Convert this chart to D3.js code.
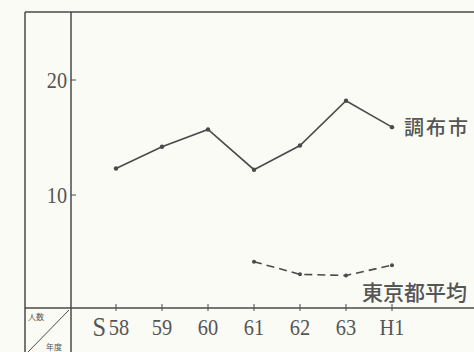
<!DOCTYPE html>
<html>
<head>
<meta charset="utf-8">
<script src="https://cdn.jsdelivr.net/npm/d3@7"></script>
<style>
  body { margin: 0; background: #fbfbf6; }
  svg { display: block; }
  text { fill: #555; }
</style>
</head>
<body>
<div id="chart"></div>
<script>
const years = ['S58', '59', '60', '61', '62', '63', 'H1'];
const chofu = [12.3, 14.2, 15.7, 12.2, 14.3, 18.2, 15.9];
const tokyoYears = ['61', '62', '63', 'H1'];
const tokyo = [4.2, 3.1, 3.0, 3.9];
const yTicks = [10, 20];

const W = 474, H = 352;
const svg = d3.select('#chart').append('svg')
    .attr('width', W)
    .attr('height', H);

const x = d3.scalePoint().domain(years).range([116, 392]);
const y = d3.scaleLinear().domain([0, 20]).range([310, 80]);

const ink = '#4a4a4a';

// frame lines
svg.append('line').attr('x1', 25).attr('x2', W).attr('y1', 12).attr('y2', 12)
    .style('stroke', ink).style('stroke-width', 1.5);
svg.append('line').attr('x1', 25).attr('x2', 25).attr('y1', 12).attr('y2', H)
    .style('stroke', ink).style('stroke-width', 1.5);
svg.append('line').attr('x1', 71).attr('x2', 71).attr('y1', 12).attr('y2', H)
    .style('stroke', ink).style('stroke-width', 1.5);
svg.append('line').attr('x1', 25).attr('x2', W).attr('y1', 308).attr('y2', 308)
    .style('stroke', ink).style('stroke-width', 1.5);

// corner box
svg.append('line').attr('x1', 28).attr('y1', 352).attr('x2', 69).attr('y2', 310)
    .style('stroke', ink).style('stroke-width', 1);
svg.append('text').attr('x', 28).attr('y', 320).text('人数')
    .style('font-family', 'Noto Sans CJK JP').style('font-size', '8px');
svg.append('text').attr('x', 46).attr('y', 350).text('年度')
    .style('font-family', 'Noto Sans CJK JP').style('font-size', '8px');

// y ticks
const yAxis = svg.append('g');
yTicks.forEach(t => {
    yAxis.append('line').attr('x1', 71).attr('x2', 76).attr('y1', y(t)).attr('y2', y(t))
        .style('stroke', ink);
    yAxis.append('text')
        .attr('transform', `translate(67,${y(t)}) scale(0.88,1)`)
        .attr('dy', '.36em')
        .attr('text-anchor', 'end')
        .style('font-family', 'Liberation Serif').style('font-size', '23px')
        .text(t);
});

// x ticks
const xAxis = svg.append('g');
years.forEach(d => {
    xAxis.append('line').attr('x1', x(d)).attr('x2', x(d)).attr('y1', 304).attr('y2', 311)
        .style('stroke', ink);
    const label = d === 'S58' ? '58' : d;
    xAxis.append('text')
        .attr('transform', `translate(${x(d) + (d === 'S58' ? 3 : 0)},335) scale(0.85,1)`)
        .attr('text-anchor', 'middle')
        .style('font-family', 'Liberation Serif').style('font-size', '24px')
        .text(label);
});
xAxis.append('text')
    .attr('transform', `translate(${x('S58') - 10},336) scale(0.9,1)`)
    .attr('text-anchor', 'end')
    .style('font-family', 'Liberation Serif').style('font-size', '27px')
    .text('S');

// chofu line
const chofuData = years.map((d, i) => ({ year: d, value: chofu[i] }));
const line = d3.line().x(d => x(d.year)).y(d => y(d.value));
svg.append('path').datum(chofuData)
    .attr('d', line)
    .style('fill', 'none').style('stroke', ink).style('stroke-width', 1.6);
svg.selectAll('.dot1').data(chofuData).enter().append('circle')
    .attr('class', 'dot1')
    .attr('cx', d => x(d.year)).attr('cy', d => y(d.value)).attr('r', 2.2)
    .style('fill', ink);

// tokyo line
const tokyoData = tokyoYears.map((d, i) => ({ year: d, value: tokyo[i] }));
svg.append('path').datum(tokyoData)
    .attr('d', line)
    .style('fill', 'none').style('stroke', ink).style('stroke-width', 1.6)
    .style('stroke-dasharray', '8,5');
svg.selectAll('.dot2').data(tokyoData).enter().append('circle')
    .attr('class', 'dot2')
    .attr('cx', d => x(d.year)).attr('cy', d => y(d.value)).attr('r', 2)
    .style('fill', ink);

// labels
svg.append('text').attr('x', 404).attr('y', 135).text('調布市')
    .style('font-family', 'Noto Sans CJK JP').style('font-size', '20px')
    .style('font-weight', 500)
    .style('letter-spacing', '2px');
svg.append('text').attr('x', 362).attr('y', 300).text('東京都平均')
    .style('font-family', 'Noto Sans CJK JP').style('font-size', '21px')
    .style('font-weight', 500);
</script>
</body>
</html>
